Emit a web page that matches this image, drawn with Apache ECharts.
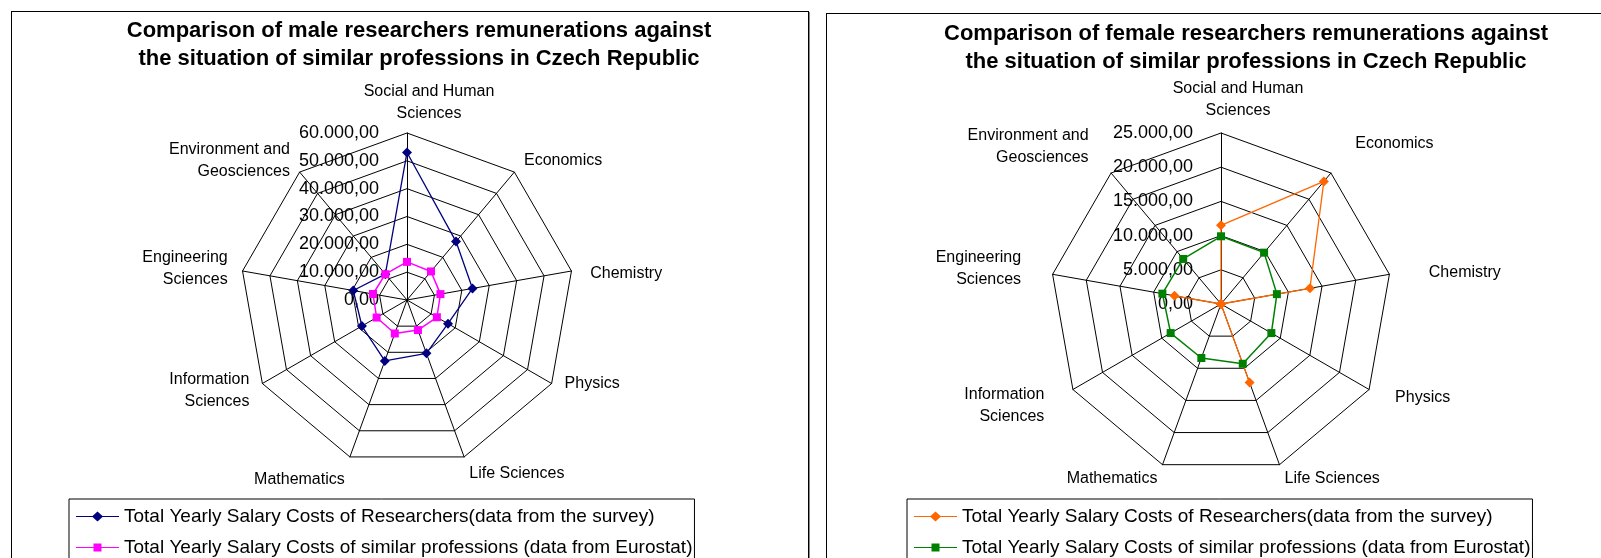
<!DOCTYPE html>
<html>
<head>
<meta charset="utf-8">
<script src="https://cdn.jsdelivr.net/npm/echarts@6/dist/echarts.min.js"></script>
<style>
	html, body { margin: 0; padding: 0; width: 1601px; height: 558px; overflow: hidden; background: #fff; }
	.frame { position: absolute; border: 1px solid #000; box-shadow: 1px 1px 0 #888; background: #fff; }
	.chart { position: absolute; top: 0; height: 660px; }
</style>
</head>
<body>
<div class="frame" style="left:11px;top:11px;width:796px;height:600px;"></div>
<div class="frame" style="left:826px;top:13px;width:800px;height:600px;"></div>
<div id="male" class="chart" style="left:0;width:838px;"></div>
<div id="female" class="chart" style="left:800px;width:892px;"></div>
<script>
// categories in clockwise order, starting at the top
const categories = ['Social and Human\nSciences', 'Economics', 'Chemistry', 'Physics', 'Life Sciences',
	'Mathematics', 'Information\nSciences', 'Engineering\nSciences', 'Environment and\nGeosciences'];
const seriesNames = ['Total Yearly Salary Costs of Researchers(data from the survey)',
	'Total Yearly Salary Costs of similar professions (data from Eurostat)'];

const maleSurvey = [53000, 27400, 23900, 17000, 20400, 23300, 18700, 19600, 12100];
const maleEurostat = [13700, 13400, 12200, 12400, 11500, 12800, 12600, 12400, 12100];
const femaleSurvey = [11500, 23400, 13200, 0, 12200, 0, 0, 6900, 0];
const femaleEurostat = [9900, 9800, 8300, 8500, 9300, 8400, 8500, 8700, 8600];

const maleMax = 60000, maleSplit = 6;
const femaleMax = 25000, femaleSplit = 5;

const FONT = '"Liberation Sans", Arial, sans-serif';

// echarts lays radar axes counter-clockwise, so flip the order after the first one
function ccw(arr) {
	return [arr[0]].concat(arr.slice(1).reverse());
}

function fmt(v) {
	let parts = Number(v).toFixed(2).split('.');
	return parts[0].replace(/\B(?=(\d{3})+(?!\d))/g, '.') + ',' + parts[1];
}

// diamond / square on a line, for the legend
const ICON_DIAMOND = 'path://M0,4.4 H16.5 L21.5,0 L26.5,4.4 H43 V5.6 H26.5 L21.5,10 L16.5,5.6 H0 Z';
const ICON_SQUARE = 'path://M0,4.4 H17.5 V1 H25.5 V4.4 H43 V5.6 H25.5 V9 H17.5 V5.6 H0 Z';

function buildOption(cfg) {
	let indicator = ccw(categories.map((name, i) => {
		let ind = {
			name: name,
			min: 0,
			max: cfg.max,
			nameGap: cfg.gaps[i]
		};
		let dy = cfg.nameDy[i];
		if (i === 0) {
			ind.nameTextStyle = { padding: [0, 0, 0, cfg.topShift] };
			ind.axisLabel = {
				show: true,
				formatter: fmt,
				color: '#000',
				fontSize: 18,
				fontFamily: FONT,
				margin: 28
			};
		} else if (dy) {
			// one-line names: anchor top/bottom with a short line box to nudge them up or down
			ind.nameTextStyle = { verticalAlign: dy > 0 ? 'top' : 'bottom', lineHeight: 2 * Math.abs(dy) };
		}
		return ind;
	}));
	return {
		animation: false,
		title: {
			text: cfg.title,
			left: 'center',
			top: cfg.titleTop,
			padding: 0,
			textStyle: { fontSize: 22, fontWeight: 'bold', color: '#000', fontFamily: FONT, lineHeight: 28 }
		},
		legend: {
			orient: 'vertical',
			left: cfg.legendLeft,
			top: cfg.legendTop,
			padding: [7, 2, 12, 7],
			borderColor: '#000',
			borderWidth: 1,
			itemWidth: 43,
			itemHeight: 10,
			itemGap: 10,
			textStyle: { fontSize: 19, color: '#000', fontFamily: FONT, lineHeight: 21 },
			itemStyle: { borderWidth: 0 },
			data: [
				{ name: seriesNames[0], icon: ICON_DIAMOND, itemStyle: { color: cfg.colors[0] } },
				{ name: seriesNames[1], icon: ICON_SQUARE, itemStyle: { color: cfg.colors[1] } }
			]
		},
		radar: {
			center: cfg.center,
			radius: cfg.radius,
			startAngle: 90,
			splitNumber: cfg.split,
			shape: 'polygon',
			axisName: { color: '#000', fontSize: 16, fontFamily: FONT, lineHeight: 22 },
			splitLine: { lineStyle: { color: '#000', width: 1 } },
			splitArea: { show: false },
			axisLine: { lineStyle: { color: '#000', width: 1 } },
			axisTick: { show: false },
			axisLabel: { show: false },
			indicator: indicator
		},
		series: [
			{
				type: 'radar',
				symbol: 'diamond',
				symbolSize: 10,
				color: cfg.colors[0],
				lineStyle: { color: cfg.colors[0], width: 1.3 },
				itemStyle: { color: cfg.colors[0] },
				data: [{ name: seriesNames[0], value: ccw(cfg.values[0]) }]
			},
			{
				type: 'radar',
				symbol: 'rect',
				symbolSize: 8,
				color: cfg.colors[1],
				lineStyle: { color: cfg.colors[1], width: 1.5 },
				itemStyle: { color: cfg.colors[1] },
				data: [{ name: seriesNames[1], value: ccw(cfg.values[1]) }]
			}
		]
	};
}

let maleChart = echarts.init(document.getElementById('male'));
maleChart.setOption(buildOption({
	title: 'Comparison of male researchers remunerations against\nthe situation of similar professions in Czech Republic',
	titleTop: 17,
	center: [407, 300],
	radius: 167,
	max: maleMax,
	split: maleSplit,
	gaps: [8, 15, 19, 15, 15, 15, 15, 15, 15],
	nameDy: [0, 0, 6, -7, 3, 9, 0, 0, 0],
	topShift: 44,
	legendLeft: 69,
	legendTop: 499,
	colors: ['#000080', '#FF00FF'],
	values: [maleSurvey, maleEurostat]
}));

let femaleChart = echarts.init(document.getElementById('female'));
femaleChart.setOption(buildOption({
	title: 'Comparison of female researchers remunerations against\nthe situation of similar professions in Czech Republic',
	titleTop: 20,
	center: [421, 304],
	radius: 171,
	max: femaleMax,
	split: femaleSplit,
	gaps: [11, 38, 40, 30, 15, 15, 33, 32, 35],
	nameDy: [0, 0, 5, -7, 0, 0, 0, 0, 0],
	topShift: 34,
	legendLeft: 107,
	legendTop: 499,
	colors: ['#FF6600', '#008000'],
	values: [femaleSurvey, femaleEurostat]
}));

window.addEventListener('resize', () => {
	maleChart.resize();
	femaleChart.resize();
});
</script>
</body>
</html>
